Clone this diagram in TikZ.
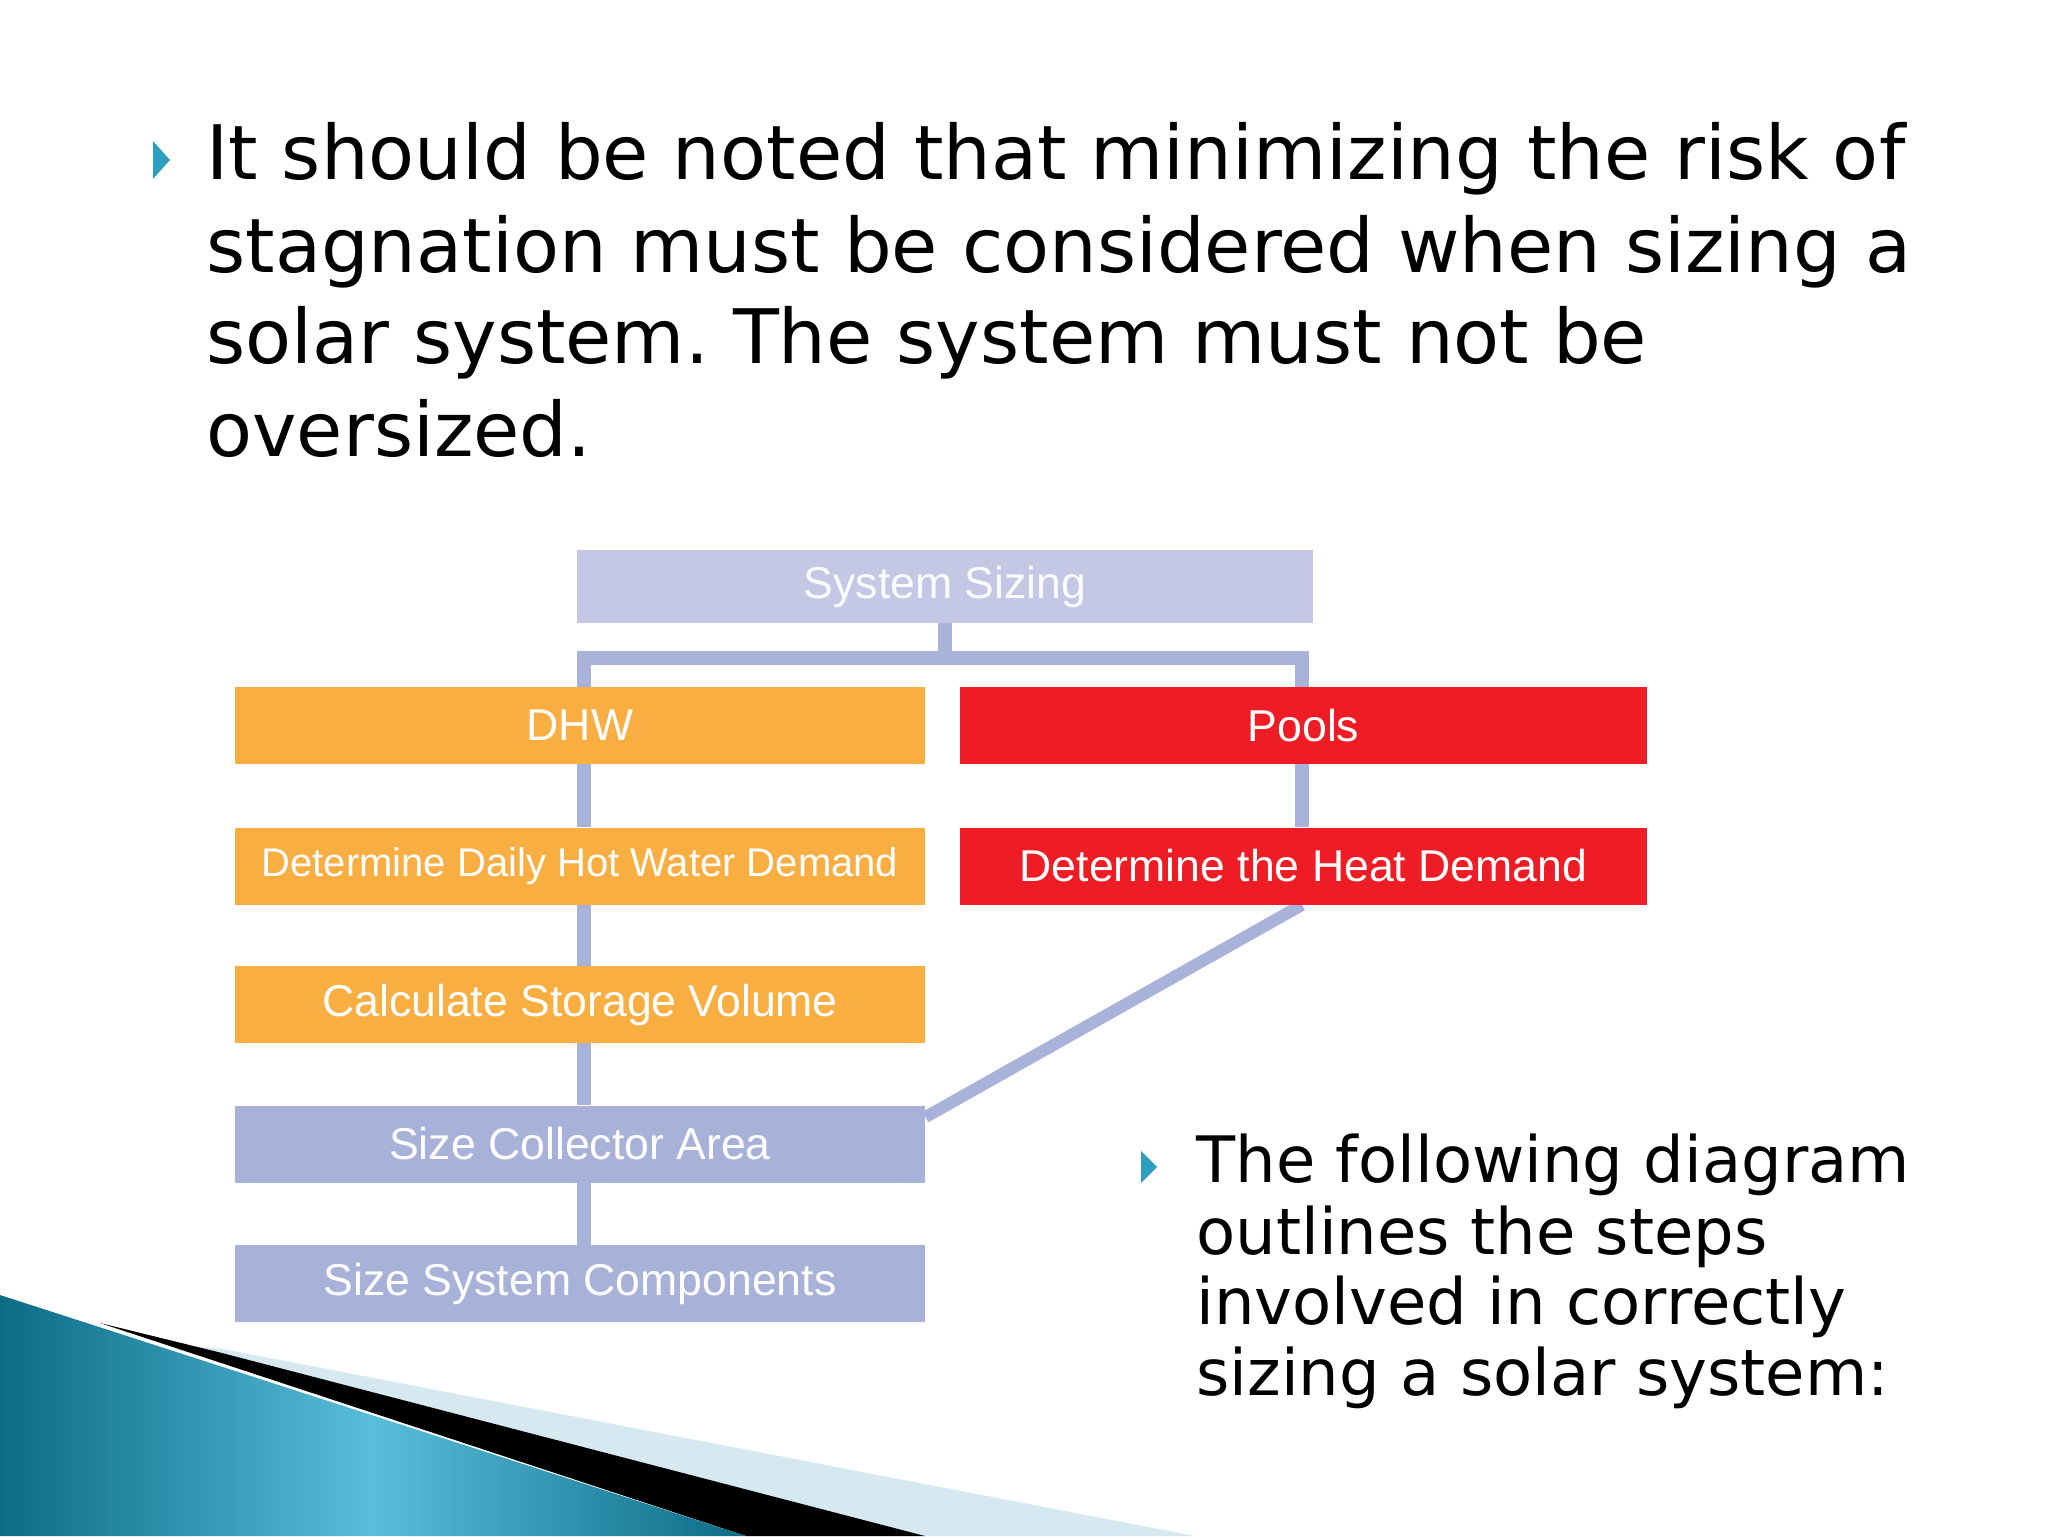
\documentclass[tikz,border=0pt]{standalone}
\usepackage{fontspec}
\usetikzlibrary{backgrounds}
\setmainfont{DejaVu Sans}
\newfontfamily\boxfont{Liberation Sans}
\frenchspacing
\definecolor{bulletteal}{HTML}{2C9FBE}
\definecolor{orangebox}{HTML}{F9AE42}
\definecolor{redbox}{HTML}{EE1D25}
\definecolor{lavtop}{HTML}{C5C8E4}
\definecolor{lavbox}{HTML}{A8B1D8}
\definecolor{linkcol}{HTML}{A9B2D8}
\definecolor{tealdark}{HTML}{0B6C86}
\definecolor{teallight}{HTML}{58BEDB}
\definecolor{paleband}{HTML}{D6E9F1}
\tikzset{
  toptext/.style={anchor=base west, inner sep=0pt, font=\fontsize{37.6}{46}\selectfont},
  bottext/.style={anchor=base west, inner sep=0pt, font=\fontsize{32}{36}\selectfont},
  boxbase/.style={inner sep=0pt, text=white, font=\boxfont\fontsize{22.3}{26}\selectfont},
  leftbox/.style={boxbase, minimum width=345pt, minimum height=38.5pt},
  rightbox/.style={boxbase, minimum width=343.5pt, minimum height=38.5pt},
  link/.style={draw=linkcol, line width=7pt, line join=miter},
  bulletmark/.style={fill=bulletteal, draw=none}
}
\begin{document}
\begin{tikzpicture}[x=0.5pt,y=-0.5pt]
\useasboundingbox (0,0) rectangle (2048,1536);

% bottom-left decoration
\fill[paleband] (177,1345) -- (223,1349) -- (1195,1536) -- (925,1536) -- (223,1359) -- (177,1350) -- cycle;
\fill[black] (100,1323) -- (222,1353) -- (925,1536) -- (746,1536) -- cycle;
\shade[left color=tealdark, right color=tealdark, middle color=teallight]
  (0,1295) -- (746,1536) -- (0,1536) -- cycle;

% bullets
\fill[bulletmark] (153,141) -- (153,179) -- (170,160) -- cycle;
\fill[bulletmark] (1141,1151) -- (1141,1183) -- (1157,1167) -- cycle;

% top paragraph
\node[toptext] (t1) at (206,179) {It should be noted that minimizing the risk of};
\node[toptext] (t2) at (206,272) {stagnation must be considered when sizing a};
\node[toptext] (t3) at (206,363) {solar system. The system must not be};
\node[toptext] (t4) at (206,456) {oversized.};

% bottom-right paragraph
\node[bottext] (b1) at (1196,1182) {The following diagram};
\node[bottext] (b2) at (1196,1254) {outlines the steps};
\node[bottext] (b3) at (1196,1324) {involved in correctly};
\node[bottext] (b4) at (1196,1395) {sizing a solar system:};

% diagram boxes
\coordinate (jl) at (584,658);
\coordinate (jr) at (1302,658);
\node[boxbase, minimum width=368pt, minimum height=36.5pt, fill=lavtop, text=white!93!lavtop] (sys) at (945,586.5) {System Sizing};
\node[leftbox, fill=orangebox] (dhw) at (580,725.5) {DHW};
\node[rightbox, fill=redbox] (pools) at (1303.5,725.5) {Pools};
\node[leftbox, fill=orangebox, font=\boxfont\fontsize{20}{24}\selectfont] (daily) at (580,866) {Determine Daily Hot Water Demand};
\node[rightbox, fill=redbox] (heat) at (1303.5,866) {Determine the Heat Demand};
\node[leftbox, fill=orangebox] (calc) at (580,1004.5) {Calculate Storage Volume};
\node[leftbox, fill=lavbox] (coll) at (580,1144) {Size Collector Area};
\node[leftbox, fill=lavbox] (comp) at (580,1283.5) {Size System Components};

% connectors (beneath boxes)
\begin{scope}[on background layer]
  \fill[white] (0,0) rectangle (2048,1536);
  \draw[link] (sys.south) -- (sys.south |- jl);
  \draw[link] (jl |- dhw.north) -- (jl) -- (jr) -- (jr |- pools.north);
  \draw[link] (jl |- dhw.south) -- (jl |- daily.north);
  \draw[link] (jl |- daily.south) -- (jl |- calc.north);
  \draw[link] (jl |- calc.south) -- (jl |- coll.north);
  \draw[link] (jl |- coll.south) -- (jl |- comp.north);
  \draw[link] (jr |- pools.south) -- (jr |- heat.north);
  \draw[link, line width=6pt] (jr |- heat.south) -- ([yshift=-6pt]coll.north east);
\end{scope}
\end{tikzpicture}
\end{document}
